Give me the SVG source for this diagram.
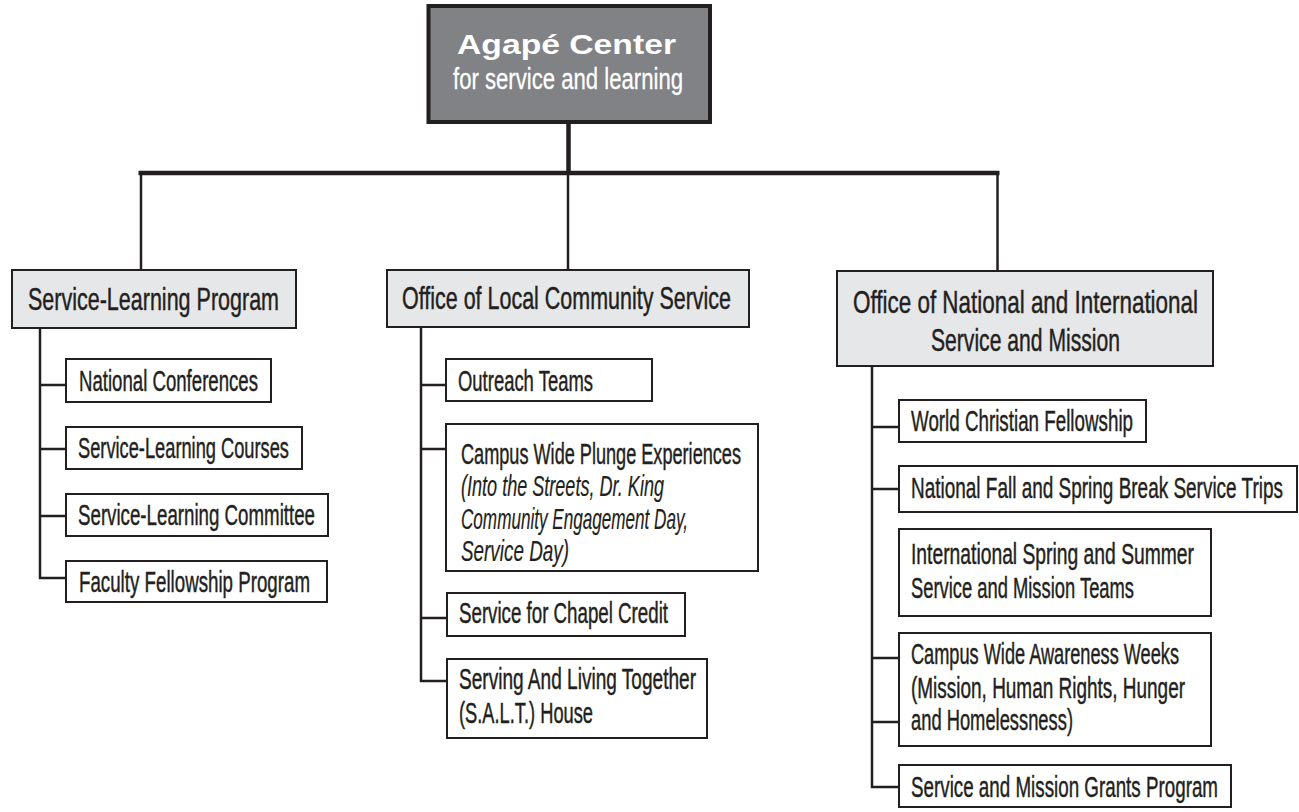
<svg xmlns="http://www.w3.org/2000/svg" width="1299" height="812" viewBox="0 0 1299 812">
<style>
.root{fill:#808285;stroke:#231f20;stroke-width:4}
.head{fill:#e6e7e8;stroke:#231f20;stroke-width:2}
.item{fill:#ffffff;stroke:#231f20;stroke-width:2}
text{font-family:"Liberation Sans",Arial,sans-serif;fill:#231f20;stroke:#231f20;stroke-width:0.45}
.h{font-size:32px}
.c{font-size:29px}
.i{font-size:29px;font-style:italic;stroke-width:0.2}
.rt1{font-size:27px;font-weight:bold;fill:#ffffff;stroke:none}
.rt2{font-size:29px;fill:#ffffff;stroke:#ffffff;stroke-width:0.3}
.thick{stroke:#231f20;stroke-width:4.5;fill:none}
.thin{stroke:#231f20;stroke-width:2.5;fill:none}
</style>
<rect width="1299" height="812" fill="#ffffff"/>
<g id="connectors">
<line class="thick" x1="568.5" y1="122" x2="568.5" y2="173"/>
<line class="thick" x1="138.5" y1="173" x2="999.5" y2="173"/>
<line class="thin" x1="141" y1="173" x2="141" y2="270"/>
<line class="thin" x1="568" y1="173" x2="568" y2="270"/>
<line class="thin" x1="997.5" y1="173" x2="997.5" y2="271"/>
<path class="thin" d="M40,329 V578 H66 M40,385 H66 M40,449 H66 M40,516 H66"/>
<path class="thin" d="M421,328 V681 H446 M421,385 H446 M421,449 H446 M421,618 H447"/>
<path class="thin" d="M872,367 V787 H899 M872,427 H899 M872,489 H899 M872,658 H899 M872,722 H899"/>
</g>
<g id="root">
<rect class="root" x="428.5" y="6" width="281.5" height="116"/>
<text class="rt1" x="457" y="54" textLength="219" lengthAdjust="spacingAndGlyphs">Agapé Center</text>
<text class="rt2" x="453" y="89" textLength="230" lengthAdjust="spacingAndGlyphs">for service and learning</text>
</g>
<g id="service-learning-program">
<rect class="head" x="12" y="270" width="284" height="58"/>
<text class="h" x="28" y="310" textLength="251" lengthAdjust="spacingAndGlyphs">Service-Learning Program</text>
</g>
<g id="local-community-service">
<rect class="head" x="387" y="270" width="362" height="57"/>
<text class="h" x="402" y="309" textLength="329" lengthAdjust="spacingAndGlyphs">Office of Local Community Service</text>
</g>
<g id="national-international">
<rect class="head" x="837" y="271" width="376" height="95"/>
<text class="h" x="853" y="313" textLength="345" lengthAdjust="spacingAndGlyphs">Office of National and International</text>
<text class="h" x="931" y="351" textLength="189" lengthAdjust="spacingAndGlyphs">Service and Mission</text>
</g>
<g id="national-conferences">
<rect class="item" x="66" y="359" width="205" height="43"/>
<text class="c" x="79" y="391" textLength="179" lengthAdjust="spacingAndGlyphs">National Conferences</text>
</g>
<g id="sl-courses">
<rect class="item" x="66" y="427" width="236" height="42"/>
<text class="c" x="78" y="458" textLength="211" lengthAdjust="spacingAndGlyphs">Service-Learning Courses</text>
</g>
<g id="sl-committee">
<rect class="item" x="66" y="494" width="262" height="42"/>
<text class="c" x="78" y="525" textLength="237" lengthAdjust="spacingAndGlyphs">Service-Learning Committee</text>
</g>
<g id="faculty-fellowship">
<rect class="item" x="66" y="561" width="261" height="41"/>
<text class="c" x="79" y="592" textLength="231" lengthAdjust="spacingAndGlyphs">Faculty Fellowship Program</text>
</g>
<g id="outreach-teams">
<rect class="item" x="446" y="359" width="206" height="42"/>
<text class="c" x="458" y="391" textLength="135" lengthAdjust="spacingAndGlyphs">Outreach Teams</text>
</g>
<g id="plunge">
<rect class="item" x="446" y="424" width="312" height="147"/>
<text class="c" x="461" y="464" textLength="280" lengthAdjust="spacingAndGlyphs">Campus Wide Plunge Experiences</text>
<text class="i" x="461" y="496" textLength="203" lengthAdjust="spacingAndGlyphs">(Into the Streets, Dr. King</text>
<text class="i" x="461" y="529" textLength="227" lengthAdjust="spacingAndGlyphs">Community Engagement Day,</text>
<text class="i" x="461" y="561" textLength="108" lengthAdjust="spacingAndGlyphs">Service Day)</text>
</g>
<g id="chapel-credit">
<rect class="item" x="447" y="593" width="238" height="43"/>
<text class="c" x="459" y="623" textLength="209" lengthAdjust="spacingAndGlyphs">Service for Chapel Credit</text>
</g>
<g id="salt-house">
<rect class="item" x="447" y="659" width="260" height="79"/>
<text class="c" x="459" y="689" textLength="237" lengthAdjust="spacingAndGlyphs">Serving And Living Together</text>
<text class="c" x="459" y="723" textLength="134" lengthAdjust="spacingAndGlyphs">(S.A.L.T.) House</text>
</g>
<g id="world-christian">
<rect class="item" x="899" y="400" width="247" height="42"/>
<text class="c" x="911" y="431" textLength="222" lengthAdjust="spacingAndGlyphs">World Christian Fellowship</text>
</g>
<g id="break-trips">
<rect class="item" x="899" y="466" width="398" height="46"/>
<text class="c" x="911" y="498" textLength="372" lengthAdjust="spacingAndGlyphs">National Fall and Spring Break Service Trips</text>
</g>
<g id="international-teams">
<rect class="item" x="899" y="529" width="312" height="87"/>
<text class="c" x="911" y="564" textLength="283" lengthAdjust="spacingAndGlyphs">International Spring and Summer</text>
<text class="c" x="911" y="598" textLength="223" lengthAdjust="spacingAndGlyphs">Service and Mission Teams</text>
</g>
<g id="awareness-weeks">
<rect class="item" x="899" y="633" width="312" height="113"/>
<text class="c" x="911" y="664" textLength="268" lengthAdjust="spacingAndGlyphs">Campus Wide Awareness Weeks</text>
<text class="c" x="911" y="698" textLength="274" lengthAdjust="spacingAndGlyphs">(Mission, Human Rights, Hunger</text>
<text class="c" x="911" y="730" textLength="162" lengthAdjust="spacingAndGlyphs">and Homelessness)</text>
</g>
<g id="grants-program">
<rect class="item" x="899" y="765" width="332" height="42"/>
<text class="c" x="911" y="797" textLength="307" lengthAdjust="spacingAndGlyphs">Service and Mission Grants Program</text>
</g>
</svg>
